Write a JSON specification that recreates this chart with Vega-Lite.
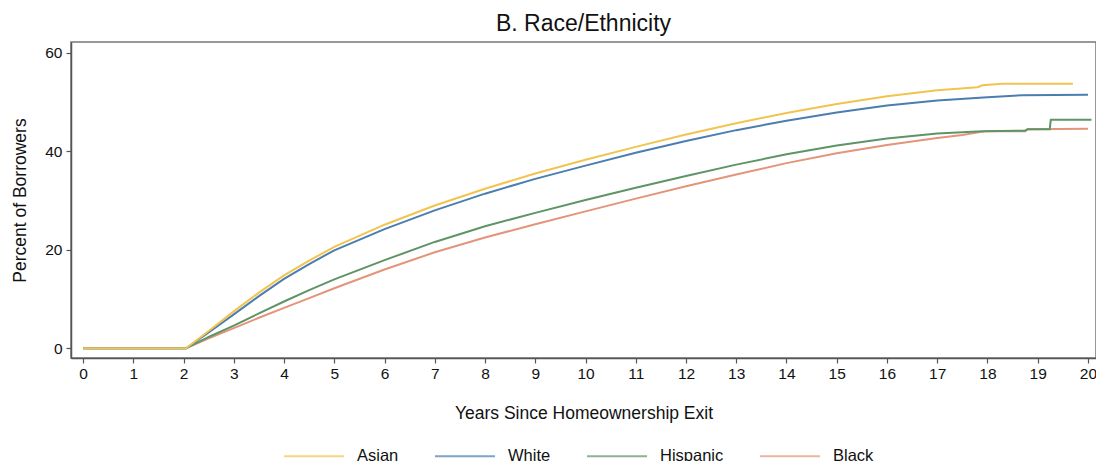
{
  "$schema": "https://vega.github.io/schema/vega-lite/v6.json",
  "autosize": "none",
  "width": 1025,
  "height": 316,
  "padding": {"left": 71, "top": 42, "right": 0, "bottom": 103},
  "background": "white",
  "title": {
    "text": "B. Race/Ethnicity",
    "font": "Liberation Sans",
    "fontSize": 23,
    "fontWeight": "normal",
    "color": "#111111",
    "anchor": "middle",
    "offset": 6
  },
  "config": {
    "font": "Liberation Sans",
    "view": {"stroke": "#777777", "strokeWidth": 1.5},
    "axis": {
      "grid": false,
      "domainColor": "#555555",
      "domainWidth": 1.5,
      "tickColor": "#555555",
      "tickWidth": 1.2,
      "tickSize": 5,
      "labelFont": "Liberation Sans",
      "labelFontSize": 15.5,
      "labelColor": "#111111",
      "titleFont": "Liberation Sans",
      "titleFontSize": 17.5,
      "titleFontWeight": "normal",
      "titleColor": "#111111"
    },
    "legend": {
      "labelFont": "Liberation Sans",
      "labelFontSize": 16.5,
      "labelColor": "#111111"
    }
  },
  "data": {
    "values": [
      {"t": 0, "v": 0, "g": "Black"},
      {"t": 2.05, "v": 0, "g": "Black"},
      {"t": 2.5, "v": 2.0, "g": "Black"},
      {"t": 3, "v": 4.1, "g": "Black"},
      {"t": 3.5, "v": 6.2, "g": "Black"},
      {"t": 4, "v": 8.2, "g": "Black"},
      {"t": 4.5, "v": 10.2, "g": "Black"},
      {"t": 5, "v": 12.2, "g": "Black"},
      {"t": 6, "v": 16.0, "g": "Black"},
      {"t": 7, "v": 19.5, "g": "Black"},
      {"t": 8, "v": 22.5, "g": "Black"},
      {"t": 9, "v": 25.2, "g": "Black"},
      {"t": 10, "v": 27.8, "g": "Black"},
      {"t": 11, "v": 30.4, "g": "Black"},
      {"t": 12, "v": 32.9, "g": "Black"},
      {"t": 13, "v": 35.3, "g": "Black"},
      {"t": 14, "v": 37.6, "g": "Black"},
      {"t": 15, "v": 39.6, "g": "Black"},
      {"t": 16, "v": 41.3, "g": "Black"},
      {"t": 17, "v": 42.7, "g": "Black"},
      {"t": 17.5, "v": 43.3, "g": "Black"},
      {"t": 17.85, "v": 43.9, "g": "Black"},
      {"t": 18.0, "v": 44.1, "g": "Black"},
      {"t": 18.75, "v": 44.1, "g": "Black"},
      {"t": 18.8, "v": 44.5, "g": "Black"},
      {"t": 20, "v": 44.6, "g": "Black"},

      {"t": 0, "v": 0, "g": "Hispanic"},
      {"t": 2.05, "v": 0, "g": "Hispanic"},
      {"t": 2.5, "v": 2.3, "g": "Hispanic"},
      {"t": 3, "v": 4.6, "g": "Hispanic"},
      {"t": 3.5, "v": 7.1, "g": "Hispanic"},
      {"t": 4, "v": 9.5, "g": "Hispanic"},
      {"t": 4.5, "v": 11.8, "g": "Hispanic"},
      {"t": 5, "v": 14.0, "g": "Hispanic"},
      {"t": 6, "v": 17.9, "g": "Hispanic"},
      {"t": 7, "v": 21.6, "g": "Hispanic"},
      {"t": 8, "v": 24.8, "g": "Hispanic"},
      {"t": 9, "v": 27.5, "g": "Hispanic"},
      {"t": 10, "v": 30.1, "g": "Hispanic"},
      {"t": 11, "v": 32.6, "g": "Hispanic"},
      {"t": 12, "v": 35.0, "g": "Hispanic"},
      {"t": 13, "v": 37.3, "g": "Hispanic"},
      {"t": 14, "v": 39.4, "g": "Hispanic"},
      {"t": 15, "v": 41.2, "g": "Hispanic"},
      {"t": 16, "v": 42.6, "g": "Hispanic"},
      {"t": 17, "v": 43.6, "g": "Hispanic"},
      {"t": 17.9, "v": 44.1, "g": "Hispanic"},
      {"t": 18.75, "v": 44.2, "g": "Hispanic"},
      {"t": 18.8, "v": 44.5, "g": "Hispanic"},
      {"t": 19.24, "v": 44.5, "g": "Hispanic"},
      {"t": 19.26, "v": 46.4, "g": "Hispanic"},
      {"t": 20.07, "v": 46.4, "g": "Hispanic"},

      {"t": 0, "v": 0, "g": "White"},
      {"t": 2.05, "v": 0, "g": "White"},
      {"t": 2.5, "v": 3.2, "g": "White"},
      {"t": 3, "v": 6.9, "g": "White"},
      {"t": 3.5, "v": 10.6, "g": "White"},
      {"t": 4, "v": 14.1, "g": "White"},
      {"t": 4.5, "v": 17.1, "g": "White"},
      {"t": 5, "v": 19.9, "g": "White"},
      {"t": 6, "v": 24.2, "g": "White"},
      {"t": 7, "v": 28.0, "g": "White"},
      {"t": 8, "v": 31.4, "g": "White"},
      {"t": 9, "v": 34.4, "g": "White"},
      {"t": 10, "v": 37.1, "g": "White"},
      {"t": 11, "v": 39.7, "g": "White"},
      {"t": 12, "v": 42.1, "g": "White"},
      {"t": 13, "v": 44.3, "g": "White"},
      {"t": 14, "v": 46.2, "g": "White"},
      {"t": 15, "v": 47.9, "g": "White"},
      {"t": 16, "v": 49.3, "g": "White"},
      {"t": 17, "v": 50.3, "g": "White"},
      {"t": 18, "v": 51.0, "g": "White"},
      {"t": 18.7, "v": 51.4, "g": "White"},
      {"t": 20, "v": 51.5, "g": "White"},

      {"t": 0, "v": 0, "g": "Asian"},
      {"t": 2.05, "v": 0, "g": "Asian"},
      {"t": 2.5, "v": 3.5, "g": "Asian"},
      {"t": 3, "v": 7.5, "g": "Asian"},
      {"t": 3.5, "v": 11.3, "g": "Asian"},
      {"t": 4, "v": 14.8, "g": "Asian"},
      {"t": 4.5, "v": 17.8, "g": "Asian"},
      {"t": 5, "v": 20.6, "g": "Asian"},
      {"t": 6, "v": 25.1, "g": "Asian"},
      {"t": 7, "v": 29.0, "g": "Asian"},
      {"t": 8, "v": 32.4, "g": "Asian"},
      {"t": 9, "v": 35.5, "g": "Asian"},
      {"t": 10, "v": 38.3, "g": "Asian"},
      {"t": 11, "v": 40.9, "g": "Asian"},
      {"t": 12, "v": 43.4, "g": "Asian"},
      {"t": 13, "v": 45.7, "g": "Asian"},
      {"t": 14, "v": 47.8, "g": "Asian"},
      {"t": 15, "v": 49.6, "g": "Asian"},
      {"t": 16, "v": 51.2, "g": "Asian"},
      {"t": 17, "v": 52.4, "g": "Asian"},
      {"t": 17.8, "v": 53.0, "g": "Asian"},
      {"t": 17.9, "v": 53.4, "g": "Asian"},
      {"t": 18.3, "v": 53.7, "g": "Asian"},
      {"t": 19.7, "v": 53.7, "g": "Asian"}
    ]
  },
  "mark": {"type": "line", "strokeWidth": 2, "interpolate": "linear"},
  "encoding": {
    "x": {
      "field": "t",
      "type": "quantitative",
      "scale": {"domain": [-0.24, 20.16], "nice": false, "zero": false},
      "axis": {
        "values": [0, 1, 2, 3, 4, 5, 6, 7, 8, 9, 10, 11, 12, 13, 14, 15, 16, 17, 18, 19, 20],
        "title": "Years Since Homeownership Exit",
        "titlePadding": 23,
        "labelPadding": 3,
        "labelFlush": false,
        "labelOverlap": false
      }
    },
    "y": {
      "field": "v",
      "type": "quantitative",
      "scale": {"domain": [-1.97, 62.2], "nice": false, "zero": false},
      "axis": {
        "values": [0, 20, 40, 60],
        "title": "Percent of Borrowers",
        "titlePadding": 15,
        "labelPadding": 4
      }
    },
    "color": {
      "field": "g",
      "type": "nominal",
      "scale": {
        "domain": ["Asian", "White", "Hispanic", "Black"],
        "range": ["#f2c44f", "#4a7eb0", "#5e9466", "#e39479"]
      },
      "legend": {
        "title": null,
        "orient": "none",
        "direction": "horizontal",
        "legendX": 212,
        "legendY": 383,
        "symbolType": "stroke",
        "symbolSize": 3600,
        "symbolStrokeWidth": 2,
        "symbolOpacity": 0.7,
        "labelOffset": 12,
        "columnPadding": 32
      }
    }
  }
}
